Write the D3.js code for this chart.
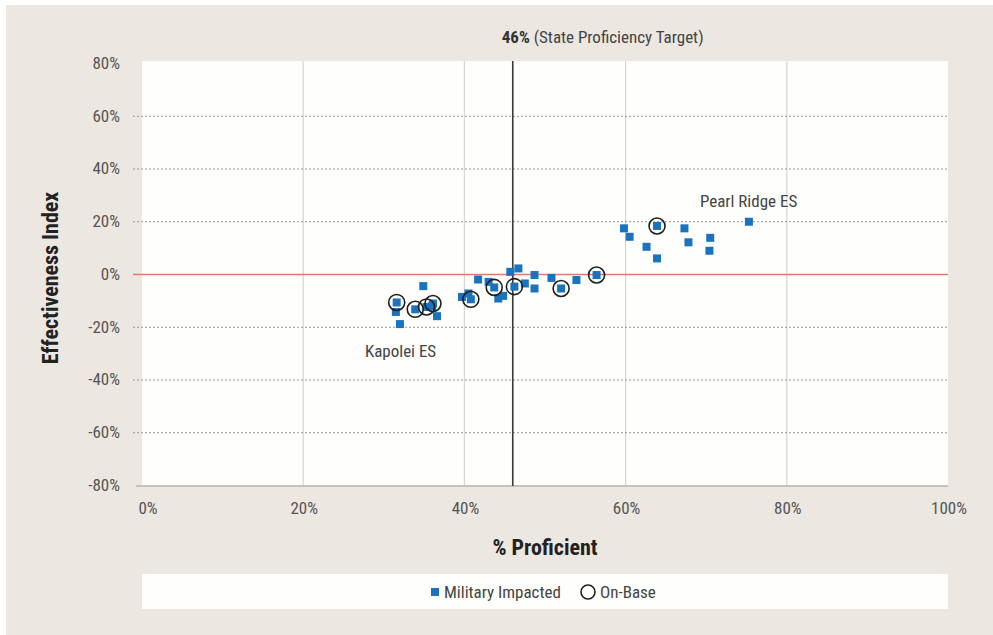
<!DOCTYPE html>
<html><head><meta charset="utf-8">
<script src="https://cdn.jsdelivr.net/npm/d3@7"></script>
<style>
html,body{margin:0;padding:0;background:#fff;}
svg text{font-family:"Liberation Sans Narrow","Roboto Condensed","DejaVu Sans Condensed",sans-serif;}
</style></head>
<body>
<script>
// Data (percent values)
const militaryX = [31.6,31.5,32.0,34.9,33.9,35.3,36.1,36.6,36.0,39.7,40.5,40.8,41.7,43.0,43.7,44.2,44.8,45.7,46.7,46.2,47.5,48.7,48.7,50.8,52.0,53.9,56.4,59.8,60.5,63.9,62.6,63.9,67.3,67.8,70.5,70.4,75.3];
const militaryY = [-10.6,-14.2,-18.8,-4.4,-13.2,-12.3,-11.0,-15.8,-12.0,-8.5,-7.2,-9.4,-1.9,-2.8,-4.9,-9.1,-8.1,1.0,2.3,-4.6,-3.4,-0.2,-5.3,-1.3,-5.3,-2.1,-0.2,17.5,14.3,18.4,10.5,6.1,17.5,12.2,13.9,9.0,20.0];
const onBaseX = [31.6,33.9,35.3,36.1,40.8,43.7,46.2,52.0,56.4,63.9];
const onBaseY = [-10.6,-13.2,-12.3,-11.0,-9.4,-4.9,-4.6,-5.3,-0.2,18.4];
const xTicks = [0,20,40,60,80,100];
const yTicks = [80,60,40,20,0,-20,-40,-60,-80];
const targetValue = 46;

const W=993,H=635;
const svg=d3.select("body").append("svg").attr("width",W).attr("height",H);
svg.append("rect").attr("x",6).attr("y",5).attr("width",W-6).attr("height",H-5).attr("fill","#ece7e1");

const x=d3.scaleLinear().domain([0,100]).range([142,948]);
const y=d3.scaleLinear().domain([-80,80]).range([485.5,63.5]);

// plot area
svg.append("rect").attr("x",142).attr("y",61).attr("width",948-142).attr("height",486-61).attr("fill","#fefefc");

// vertical grid
svg.append("g").selectAll("line").data(xTicks.filter(d=>d>0&&d<100)).join("line")
  .attr("x1",d=>x(d)).attr("x2",d=>x(d)).attr("y1",61).attr("y2",486)
  .attr("stroke","#d9d5ce").attr("stroke-width",1.2);
// horizontal grid dotted
svg.append("g").selectAll("line").data(yTicks.filter(d=>d!==0&&d!==80&&d!==-80)).join("line")
  .attr("x1",133).attr("x2",948).attr("y1",d=>y(d)).attr("y2",d=>y(d))
  .attr("stroke","#9a968f").attr("stroke-width",1).attr("stroke-dasharray","2,2");
// zero line
svg.append("line").attr("x1",133).attr("x2",948).attr("y1",y(0)).attr("y2",y(0))
  .attr("stroke","#e27a73").attr("stroke-width",1.5);
// bottom axis line
svg.append("line").attr("x1",136).attr("x2",948).attr("y1",486).attr("y2",486)
  .attr("stroke","#c7c1b8").attr("stroke-width",2);

// y tick labels
svg.append("g").selectAll("text").data(yTicks).join("text")
  .attr("x",120).attr("y",d=>y(d)+1).attr("text-anchor","end").attr("dominant-baseline","middle")
  .attr("font-size",17).attr("fill","#555").text(d=>d+"%");
// x tick labels
svg.append("g").selectAll("text").data(xTicks).join("text")
  .attr("x",d=>d===0?x(d)+6:x(d)+1).attr("y",514).attr("text-anchor","middle")
  .attr("font-size",17).attr("fill","#555").text(d=>d+"%");

// target line
svg.append("line").attr("x1",x(targetValue)).attr("x2",x(targetValue)).attr("y1",61).attr("y2",486)
  .attr("stroke","#3a3a3a").attr("stroke-width",1.6);
const tt=svg.append("text").attr("x",x(targetValue)-11).attr("y",43).attr("font-size",17).attr("fill","#333");
tt.append("tspan").attr("font-weight","bold").text(targetValue+"%");
tt.append("tspan").attr("fill","#444").text(" (State Proficiency Target)");

// squares
const sq=8;
svg.append("g").selectAll("rect").data(militaryX.map((v,i)=>[v,militaryY[i]])).join("rect")
  .attr("x",d=>x(d[0])-sq/2).attr("y",d=>y(d[1])-sq/2).attr("width",sq).attr("height",sq)
  .attr("fill","#1c73bd");
// circles
svg.append("g").selectAll("circle").data(onBaseX.map((v,i)=>[v,onBaseY[i]])).join("circle")
  .attr("cx",d=>x(d[0])).attr("cy",d=>y(d[1])).attr("r",8)
  .attr("fill","none").attr("stroke","#1e1e1e").attr("stroke-width",1.6);

// point labels
svg.append("text").attr("x",x(75.3)-49).attr("y",y(20)-15).attr("font-size",17).attr("fill","#444").text("Pearl Ridge ES");
svg.append("text").attr("x",x(32.0)-35).attr("y",y(-18.8)+33).attr("font-size",17).attr("fill","#444").text("Kapolei ES");

// axis titles
svg.append("text").attr("transform","translate(58,278) rotate(-90)").attr("text-anchor","middle")
  .attr("font-size",22).attr("font-weight","bold").attr("fill","#222").text("Effectiveness Index");
svg.append("text").attr("x",545).attr("y",555).attr("text-anchor","middle")
  .attr("font-size",22).attr("font-weight","bold").attr("fill","#222").text("% Proficient");

// legend
svg.append("rect").attr("x",142).attr("y",574).attr("width",948-142).attr("height",35).attr("fill","#fefefc");
svg.append("rect").attr("x",431).attr("y",588).attr("width",8).attr("height",8).attr("fill","#1c73bd");
svg.append("text").attr("x",444).attr("y",598).attr("font-size",17).attr("fill","#444").text("Military Impacted");
svg.append("circle").attr("cx",588).attr("cy",592).attr("r",7).attr("fill","none").attr("stroke","#1e1e1e").attr("stroke-width",1.6);
svg.append("text").attr("x",600).attr("y",598).attr("font-size",17).attr("fill","#444").text("On-Base");
</script>
</body></html>
